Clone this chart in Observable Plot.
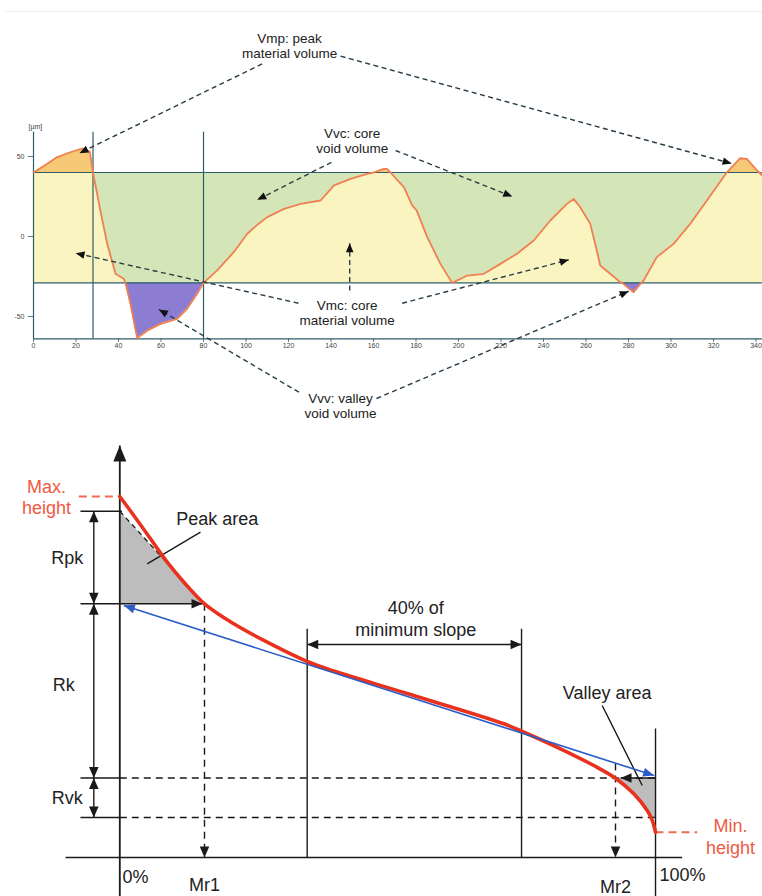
<!DOCTYPE html>
<html>
<head>
<meta charset="utf-8">
<script src="https://cdn.jsdelivr.net/npm/d3@7"></script>
<script src="https://cdn.jsdelivr.net/npm/@observablehq/plot@0.6"></script>
<style>
  html, body { margin: 0; padding: 0; background: #ffffff; }
  #app svg { display: block; }
</style>
</head>
<body>
<div id="app"></div>
<script>
// ================= TOP CHART DATA: surface profile (µm) =================
const profileX = [0, 6, 11, 17, 23, 26.5, 28, 31.5, 34.7, 38.6, 42.5, 43.3, 45.6, 48.8, 53.7, 59.8, 67.6, 72.3, 77, 80,
  86.4, 94.2, 100.6, 105, 110, 117.9, 125.7, 135.1, 141.4, 149.2, 157, 160, 164.9, 166.4, 168, 174.3, 178.2, 180.3,
  185.3, 191.5, 197, 204.1, 211.9, 219.7, 227.5, 235.4, 243.2, 251, 254.2, 257.3, 262, 265.1, 266.7, 271.4, 276.1,
  277, 282.4, 286, 287.1, 293.3, 301.2, 309, 316.9, 326.2, 332.5, 335.7, 340, 341.5, 343];
const profileY = [40, 45, 49.5, 52.5, 55, 53, 40, 16, -4.6, -23.3, -26.4, -29, -42.1, -63.5, -58.7, -54.6, -51.5, -45.2, -35.8, -29,
  -21.2, -9.8, 1.7, 7, 12.1, 17.3, 20.4, 22.5, 31.9, 36, 39.2, 40, 42.3, 42.3, 40, 30.8, 19.4, 16.3,
  -0.4, -17.1, -29, -24.4, -23.3, -17.1, -10.8, -2.5, 10, 20.4, 23.5, 18.3, 7.9, -8.8, -18.1, -23.3, -28.5,
  -29, -34.8, -29, -27.5, -12.9, -4.6, 7.9, 22.5, 40, 48.9, 48.5, 42, 40, 38];
const coreLimits = [40, -29];            // upper / lower limit of the core zone
const guideLinesX = [28, 80];            // vertical guide lines
const xTickValues = [0, 20, 40, 60, 80, 100, 120, 140, 160, 180, 200, 220, 240, 260, 280, 300, 320, 340];
const yTickValues = [-50, 0, 50];
const unitLabel = "[µm]";
const axisBottom = -64, axisTop = 65.2;

const volumeLabels = ["Vmp: peak\nmaterial volume", "Vvc: core\nvoid volume", "Vmc: core\nmaterial volume", "Vvv: valley\nvoid volume"];
const volumeLabelX = [120.5, 150, 147.6, 144.5];
const volumeLabelY = [119.3, 59.7, -47.5, -105.9];
// leader arrows [fromX, fromY, toX, toY]
const volumeArrows = [
  [107.6, 107.9, 21.6, 52.1],
  [144.5, 112.7, 328.5, 45.6],
  [140.2, 46.4, 105.3, 22.9],
  [170.4, 53.75, 225.3, 25],
  [124.7, -41.7, 19.8, -10.4],
  [148.8, -33.75, 148.8, -4.2],
  [173.5, -41.7, 251.9, -14.6],
  [124.9, -97.3, 59, -45.6],
  [161.4, -101.25, 280.1, -34.2]
];

// ================= BOTTOM CHART DATA: Abbott-Firestone curve =================
const curveRatio  = [0, 2.61, 5.73, 8.85, 11.95, 15.81, 21.28, 27.52, 34.98, 39.95, 53.3, 71.7, 75.12, 82.26, 88.48, 92.53, 95.95, 98.45, 99.16, 99.6, 100];
const curveHeight = [100, 94.74, 88.28, 81.8, 76.26, 70.28, 64.74, 59.64, 54.29, 51.66, 45.57, 37.04, 34.9, 30.11, 25.48, 21.97, 17.65, 13.02, 11.08, 9.34, 7.01];
const maxHeight = 100, minHeight = 7.01;
const rpkTop = 95.93, rkTop = 70.28, rkBottom = 22.02, rvkBottom = 11.08;
const mr1 = 15.81, mr2 = 92.53;
const slopeWindow = [34.98, 74.99];
const centeredTexts = ["Max.\nheight", "Peak area", "Rpk", "Rk", "Rvk", "40% of\nminimum slope", "Valley area", "Min.\nheight", "Mr1", "Mr2"];
const centeredTextX = [-13.7, 18.18, -9.82, -10.45, -9.82, 55.24, 90.98, 113.98, 15.81, 92.53];
const centeredTextY = [100, 94.1, 83.19, 48.2, 16.7, 66.25, 45.79, 5.86, -7.2, -8.0];
const centeredTextRed = [true, false, false, false, false, false, false, true, false, false];
const percentTexts = ["0%", "100%"];
const percentTextX = [0.5, 100.72];
const percentTextY = [-5.46, -4.99];

// ================= helpers =================
const W = 762;
const topH = 430, topXD = [-15.53, 343.06], topYD = [-121.25, 147.5];
const botH = 466, botXD = [-22.27, 119.97], botYD = [-10.8, 118.28];

function headSymbol(len, halfW) {
  return {draw(ctx) { ctx.moveTo(0, 0); ctx.lineTo(-halfW, len); ctx.lineTo(halfW, len); ctx.closePath(); }};
}
function headPoints(arrows, xd, yd, h) {
  const kx = W / (xd[1] - xd[0]), ky = h / (yd[1] - yd[0]);
  const ang = (x1, y1, x2, y2) => Math.atan2((x2 - x1) * kx, (y2 - y1) * ky) * 180 / Math.PI;
  const pts = [];
  for (const a of arrows) {
    if (a.end) pts.push({x: a.x2, y: a.y2, angle: ang(a.x1, a.y1, a.x2, a.y2)});
    if (a.start) pts.push({x: a.x1, y: a.y1, angle: ang(a.x2, a.y2, a.x1, a.y1)});
  }
  return pts;
}
const clamp = (v, lo, hi) => Math.max(lo, Math.min(hi, v));
const seg = (x1, y1, x2, y2, start = false, end = false) => ({x1, y1, x2, y2, start, end});

// ================= TOP CHART =================
const profile = profileX.map((x, i) => ({x, y: profileY[i]}));
const [up, lo] = coreLimits;
const topArrows = volumeArrows.map(([x1, y1, x2, y2]) => seg(x1, y1, x2, y2, false, true));
const topLabelData = volumeLabels.map((t, i) => ({t, x: volumeLabelX[i], y: volumeLabelY[i]}));
const lineCol = "#2e5c69";

const topChart = Plot.plot({
  width: W, height: topH, margin: 0,
  x: {domain: topXD, axis: null},
  y: {domain: topYD, axis: null},
  style: {fontFamily: "'Liberation Sans', Arial, sans-serif", background: "#fff"},
  marks: [
    Plot.ruleY([140.6], {x1: -13.2, x2: 343, stroke: "#ececec", strokeWidth: 1}),
    Plot.areaY(profile, {x: "x", y1: lo, y2: d => clamp(d.y, lo, up), fill: "#f9f4c0"}),
    Plot.areaY(profile, {x: "x", y1: d => clamp(d.y, lo, up), y2: up, fill: "#d4e6b7"}),
    Plot.areaY(profile, {x: "x", y1: up, y2: d => Math.max(d.y, up), fill: "#f6c977"}),
    Plot.areaY(profile, {x: "x", y1: d => Math.min(d.y, lo), y2: lo, fill: "#8c7dd2"}),
    Plot.ruleY(coreLimits, {x1: 0, x2: 343, stroke: lineCol, strokeWidth: 1.2}),
    Plot.ruleX(guideLinesX, {y1: axisBottom, y2: axisTop, stroke: lineCol, strokeWidth: 1.2}),
    Plot.ruleX([0], {y1: axisBottom, y2: axisTop, stroke: lineCol, strokeWidth: 1.2}),
    Plot.ruleY([axisBottom], {x1: 0, x2: 343, stroke: lineCol, strokeWidth: 1.4}),
    Plot.ruleX(xTickValues, {x: d => d, y1: axisBottom, y2: axisBottom - 2.2, stroke: lineCol, strokeWidth: 0.8}),
    Plot.ruleY(yTickValues, {y: d => d, x1: -2.4, x2: 0, stroke: lineCol, strokeWidth: 0.8}),
    Plot.text(xTickValues, {x: d => d, y: axisBottom, dy: 7, text: d => String(d), fontSize: 7, fill: "#444"}),
    Plot.text(yTickValues, {x: 0, y: d => d, dx: -9, text: d => String(d), fontSize: 7, fill: "#444", textAnchor: "end"}),
    Plot.text([unitLabel], {x: 0.9, y: 68.3, text: d => d, fontSize: 7, fill: "#444"}),
    Plot.line(profile, {x: "x", y: "y", stroke: "#f07f52", strokeWidth: 1.8, strokeLinejoin: "round"}),
    Plot.link(topArrows, {x1: "x1", y1: "y1", x2: "x2", y2: "y2", stroke: "#2a3e47", strokeWidth: 1.4, strokeDasharray: "5,3.5"}),
    Plot.dot(headPoints(topArrows, topXD, topYD, topH), {x: "x", y: "y", rotate: "angle", symbol: headSymbol(9, 3.8), fill: "#111", stroke: "none"}),
    Plot.text(topLabelData, {x: "x", y: "y", text: "t", fontSize: 13.5, lineHeight: 1.12, fill: "#222"})
  ]
});

// ================= BOTTOM CHART =================
const curve = curveRatio.map((p, i) => ({p, h: curveHeight[i]}));
const valleyZone = curve.filter(d => d.h <= rkBottom && d.h >= rvkBottom);
const peakZone = [{p: 0, h: rpkTop}, {p: mr1, h: rkTop}];
const levelStart = -7.34, dimX = -4.85;

const solidLines = [
  seg(-10.14, 0, 104.98, 0),
  seg(levelStart, rpkTop, 0.4, rpkTop),
  seg(levelStart, rkTop, 15.44, rkTop, false, true),
  seg(levelStart, rkBottom, 0, rkBottom),
  seg(levelStart, rvkBottom, 0, rvkBottom),
  seg(dimX, rpkTop, dimX, rkTop, true, true),
  seg(dimX, rkTop, dimX, rkBottom, true, true),
  seg(dimX, rkBottom, dimX, rvkBottom, true, true),
  seg(slopeWindow[0], 0, slopeWindow[0], 63.35),
  seg(slopeWindow[1], 0, slopeWindow[1], 63.35),
  seg(slopeWindow[0], 59.0, slopeWindow[1], 59.0, true, true),
  seg(100, botYD[0], 100, 35.73),
  seg(100, rkBottom, 93.47, rkBottom, false, true),
  seg(15.06, 90.11, 5.11, 81.36),
  seg(90.05, 42.1, 97.52, 19.94)
];
const axisArrow = [seg(0, botYD[0], 0, 114.1, false, true)];
const dashedLines = [
  seg(mr1, rkTop, mr1, 0, false, true),
  seg(mr2, 26.04, mr2, 0, false, true),
  seg(0, rkBottom, 100, rkBottom),
  seg(0, rvkBottom, 100, rvkBottom)
];
const hypotenuse = [seg(0, rpkTop, mr1, rkTop)];
const redDashed = [seg(-7.65, maxHeight, 0, maxHeight), seg(100, minHeight, 107.78, minHeight)];
const blueArrow = [seg(0.75, 69.8, 99.74, 22.7, true, true)];
const centeredLabelData = centeredTexts.map((t, i) => ({t, x: centeredTextX[i], y: centeredTextY[i], red: centeredTextRed[i]}));
const percentLabelData = percentTexts.map((t, i) => ({t, x: percentTextX[i], y: percentTextY[i]}));
const ink = "#1a1a1a";
const linkOpts = {x1: "x1", y1: "y1", x2: "x2", y2: "y2"};

const bottomChart = Plot.plot({
  width: W, height: botH, margin: 0,
  x: {domain: botXD, axis: null},
  y: {domain: botYD, axis: null},
  style: {fontFamily: "'Liberation Sans', Arial, sans-serif", background: "#fff"},
  marks: [
    Plot.areaY(peakZone, {x: "p", y1: rkTop, y2: "h", fill: "#bdbdbd"}),
    Plot.areaX(valleyZone, {y: "h", x1: "p", x2: 100, fill: "#bdbdbd"}),
    Plot.link(dashedLines, {...linkOpts, stroke: ink, strokeWidth: 1.4, strokeDasharray: "7,5"}),
    Plot.link(hypotenuse, {...linkOpts, stroke: ink, strokeWidth: 1.3, strokeDasharray: "5,4"}),
    Plot.link(solidLines, {...linkOpts, stroke: ink, strokeWidth: 1.4}),
    Plot.link(axisArrow, {...linkOpts, stroke: ink, strokeWidth: 1.8}),
    Plot.link(redDashed, {...linkOpts, stroke: "#f06a55", strokeWidth: 2, strokeDasharray: "8,5"}),
    Plot.line(curve, {x: "p", y: "h", stroke: "#e8321e", strokeWidth: 3.6, curve: "catmull-rom", strokeLinecap: "round"}),
    Plot.link(blueArrow, {...linkOpts, stroke: "#2a5cc8", strokeWidth: 1.6}),
    Plot.dot(headPoints(solidLines.concat(dashedLines), botXD, botYD, botH), {x: "x", y: "y", rotate: "angle", symbol: headSymbol(11, 4.8), fill: ink, stroke: "none"}),
    Plot.dot(headPoints(axisArrow, botXD, botYD, botH), {x: "x", y: "y", rotate: "angle", symbol: headSymbol(16, 6.5), fill: ink, stroke: "none"}),
    Plot.dot(headPoints(blueArrow, botXD, botYD, botH), {x: "x", y: "y", rotate: "angle", symbol: headSymbol(11, 4.5), fill: "#2a5cc8", stroke: "none"}),
    Plot.text(centeredLabelData, {x: "x", y: "y", text: "t", fontSize: 18, lineHeight: 1.22,
      fill: d => d.red ? "#ee5a44" : "#222", textAnchor: "middle"}),
    Plot.text(percentLabelData, {x: "x", y: "y", text: "t", fontSize: 18, fill: "#222", textAnchor: "start"})
  ]
});

document.getElementById("app").append(topChart, bottomChart);
</script>
</body>
</html>
